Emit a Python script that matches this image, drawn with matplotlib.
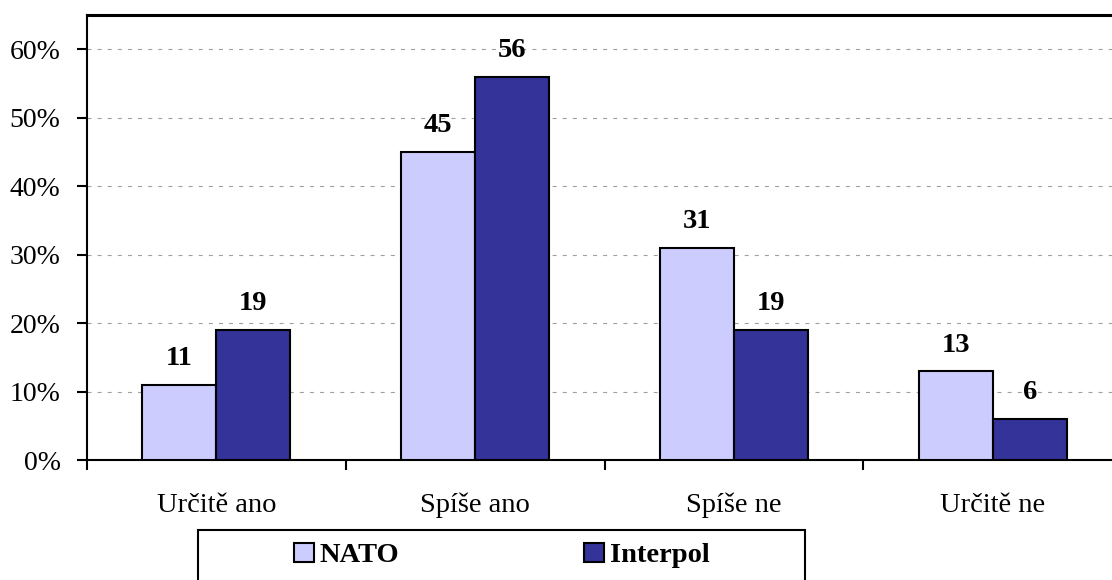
import matplotlib
matplotlib.use("Agg")
import matplotlib.pyplot as plt
import numpy as np
from matplotlib.patches import Rectangle

plt.rcParams["font.family"] = ["Liberation Serif", "DejaVu Serif"]

categories = ["Určitě ano", "Spíše ano", "Spíše ne", "Určitě ne"]
nato = [11, 45, 31, 13]
interpol = [19, 56, 19, 6]
series_names = ["NATO", "Interpol"]
y_ticks = [0, 10, 20, 30, 40, 50, 60]

fs = 20.5
c_nato = "#CCCCFF"
c_interpol = "#333399"

fig = plt.figure(figsize=(11.12, 5.8), dpi=100)
ax = fig.add_axes([87 / 1112, 120 / 580, 1035 / 1112, 445 / 580])

x = np.arange(len(categories))
w = 0.286
b1 = ax.bar(x - w / 2, nato, w, color=c_nato, edgecolor="black", linewidth=1.5,
            label=series_names[0], zorder=3)
b2 = ax.bar(x + w / 2, interpol, w, color=c_interpol, edgecolor="black", linewidth=1.5,
            label=series_names[1], zorder=3)

for bars, vals in ((b1, nato), (b2, interpol)):
    for rect, v in zip(bars, vals):
        ax.annotate(str(v), (rect.get_x() + rect.get_width() / 2, v),
                    xytext=(0, 14), textcoords="offset points",
                    ha="center", va="baseline", fontsize=fs, fontweight="bold", zorder=4)

ax.set_xlim(-0.5, len(categories) - 0.5)
ax.set_ylim(0, 65)
ax.set_yticks(y_ticks)
ax.set_yticklabels([f"{t}%" for t in y_ticks], fontsize=20)
ax.yaxis.grid(True, color="#a0a0a0", linestyle=(0, (3.6, 5.5)), linewidth=0.8, zorder=0)

ax.set_xticks(x)
ax.set_xticklabels(categories, fontsize=fs)
ax.set_xticks(np.arange(-0.5, len(categories), 1.0), minor=True)
ax.tick_params(axis="x", which="major", length=0, pad=23.5)
ax.tick_params(axis="x", which="minor", length=7, width=1.5, direction="out")
ax.tick_params(axis="y", length=7, width=1.5, direction="out", pad=12)

for s in ("left", "bottom"):
    ax.spines[s].set_linewidth(1.5)
ax.spines["top"].set_linewidth(2.2)
ax.spines["right"].set_visible(False)

# legend box
fig.patches.append(Rectangle((198 / 1112, -20 / 580), 607 / 1112, 70 / 580,
                             transform=fig.transFigure, facecolor="white",
                             edgecolor="black", linewidth=1.5))
leg = fig.legend(handles=[b1, b2], loc="center", bbox_to_anchor=(502 / 1112, 24.5 / 580),
                 ncol=2, frameon=False, prop={"size": fs, "weight": "bold"},
                 handlelength=0.67, handleheight=0.67, handletextpad=0.22,
                 columnspacing=6.5, borderpad=0)

fig.savefig("out.png", dpi=100)
